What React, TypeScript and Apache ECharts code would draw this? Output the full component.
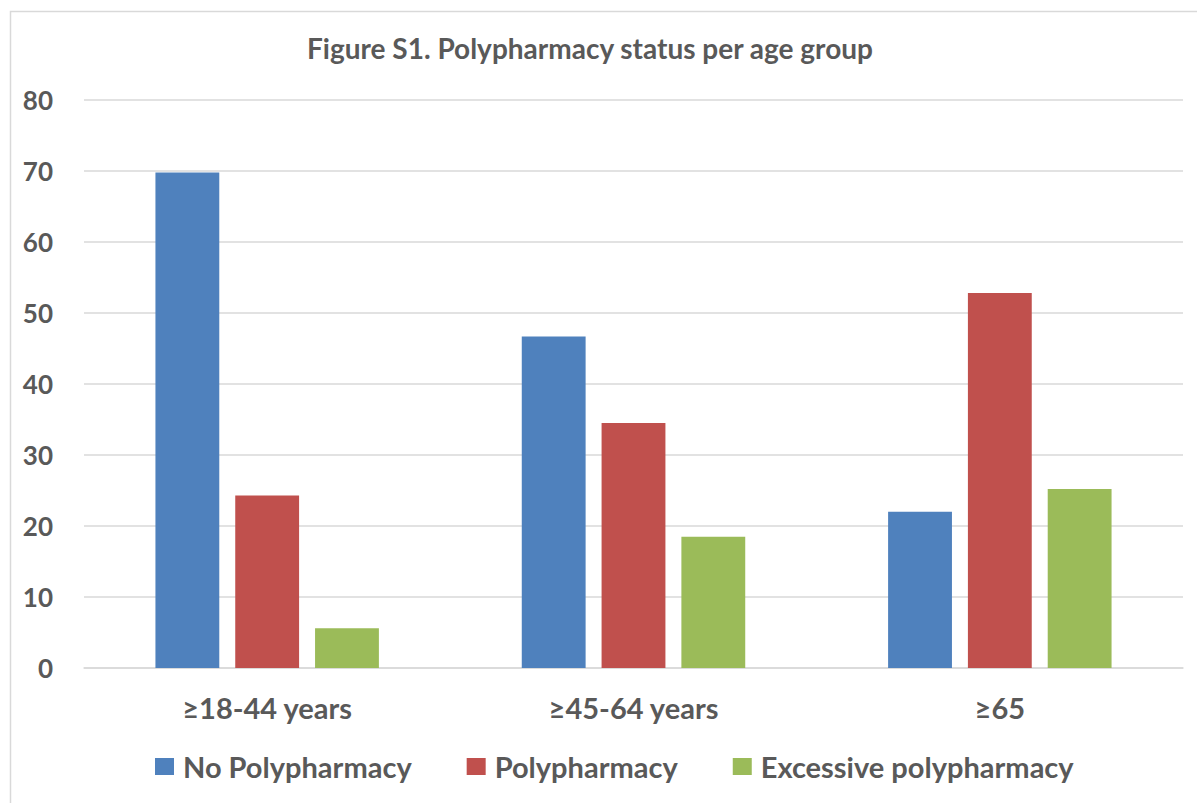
import React, { useEffect, useRef } from "react";
import * as echarts from "echarts";

const categories = ["≥18-44 years", "≥45-64 years", "≥65"];
const seriesNames = ["No Polypharmacy", "Polypharmacy", "Excessive polypharmacy"];
const noPoly = [69.8, 46.7, 22.0];
const poly = [24.3, 34.5, 52.8];
const excessive = [5.6, 18.5, 25.2];
const colors = ["#4F81BD", "#C0504D", "#9BBB59"];

const FONT = "Lato";
const TEXT = "#595959";

export default function App() {
  const ref = useRef<HTMLDivElement>(null);
  useEffect(() => {
    if (!ref.current) return;
    const chart = echarts.init(ref.current, undefined, { renderer: "svg" });
    const data = [noPoly, poly, excessive];
    chart.setOption({
      animation: false,
      backgroundColor: "#ffffff",
      title: {
        text: "Figure S1. Polypharmacy status per age group",
        left: 585,
        textAlign: "center",
        top: 29,
        textStyle: { fontFamily: FONT, fontWeight: "bold", fontSize: 28, color: TEXT },
      },
      graphic: [
        {
          type: "rect",
          shape: { x: 10.5, y: 11.5, width: 1300, height: 800 },
          style: { fill: "none", stroke: "#D9D9D9", lineWidth: 1.5 },
          silent: true,
        },
      ],
      legend: {
        bottom: 17,
        left: 150,
        itemWidth: 19,
        itemHeight: 17,
        itemGap: 55,
        icon: "rect",
        textStyle: {
          fontFamily: FONT,
          fontWeight: "bold",
          fontSize: 29,
          color: TEXT,
          padding: [0, 0, 0, 4],
        },
        data: seriesNames,
      },
      grid: { left: 84, right: 14, top: 100, bottom: 135, containLabel: false },
      xAxis: {
        type: "category",
        data: categories,
        axisLine: { lineStyle: { color: "#D9D9D9", width: 1.5 } },
        axisTick: { show: false },
        axisLabel: {
          fontFamily: FONT,
          fontWeight: "bold",
          fontSize: 29,
          color: TEXT,
          margin: 25,
        },
      },
      yAxis: {
        type: "value",
        min: 0,
        max: 80,
        interval: 10,
        axisLine: { show: false },
        axisTick: { show: false },
        splitLine: { lineStyle: { color: "#D9D9D9", width: 1.5 } },
        axisLabel: {
          fontFamily: FONT,
          fontWeight: "bold",
          fontSize: 26,
          color: TEXT,
          margin: 31,
        },
      },
      series: seriesNames.map((name, i) => ({
        name,
        type: "bar",
        data: data[i],
        barGap: "25%",
        barCategoryGap: "39%",
        itemStyle: { color: colors[i] },
      })),
    });
    return () => chart.dispose();
  }, []);
  return (
    <div
      ref={ref}
      style={{ position: "fixed", left: 0, top: 0, width: 1197, height: 803 }}
    />
  );
}
